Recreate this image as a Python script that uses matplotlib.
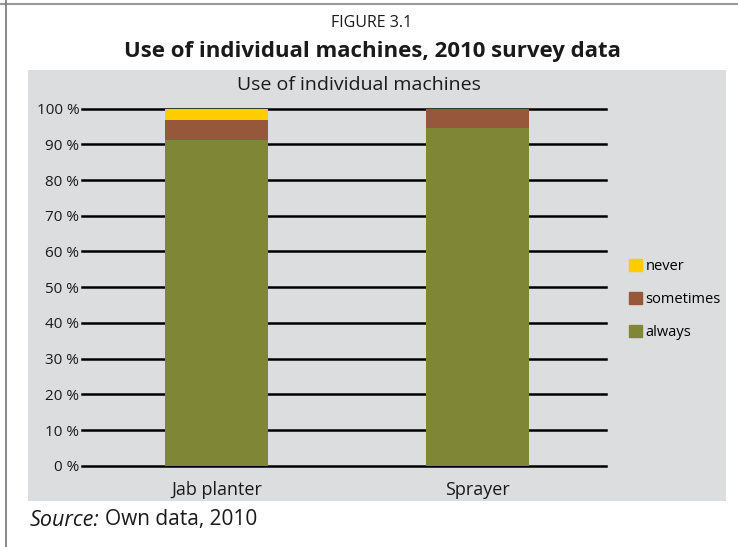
import matplotlib.pyplot as plt
from matplotlib.patches import Rectangle, Patch

plt.rcParams['font.family'] = ['Open Sans', 'DejaVu Sans']

# Share of respondents by machine (percent)
machines = ["Jab planter", "Sprayer"]
always = [91.2, 94.7]
sometimes = [5.6, 5.3]
never = [3.2, 0.0]
y_ticks = [0, 10, 20, 30, 40, 50, 60, 70, 80, 90, 100]

col_always = "#7f8737"
col_sometimes = "#96573a"
col_never = "#ffcc00"
panel_bg = "#dcdddf"
txt = "#1a1a1a"

fig = plt.figure(figsize=(7.38, 5.47), dpi=100)
W, H = 738, 547

# page frame lines (top and left)
fig.add_artist(plt.Line2D([0, 1], [1 - 3.5 / H, 1 - 3.5 / H], color="#999999", lw=1.5))
fig.add_artist(plt.Line2D([6.5 / W, 6.5 / W], [0, 1], color="#777777", lw=1.2))

# grey chart panel
fig.add_artist(Rectangle((28 / W, 1 - 500.5 / H), (726 - 28) / W, (500.5 - 70) / H,
                         transform=fig.transFigure, facecolor=panel_bg, edgecolor="none", zorder=0))

fig.text(372 / W, 1 - 23 / H, "FIGURE 3.1", ha="center", va="center", fontsize=11.5, color=txt)
fig.text(372 / W, 1 - 51 / H, "Use of individual machines, 2010 survey data", ha="center", va="center",
         fontsize=16, fontweight="bold", color=txt)
fig.text(359 / W, 1 - 85 / H, "Use of individual machines", ha="center", va="center",
         fontsize=14, color=txt)

ax = fig.add_axes([82 / W, 1 - 465.7 / H, (606 - 82) / W, (465.7 - 108.7) / H])
ax.patch.set_visible(False)

x = [0, 1]
bw = 0.395
ax.bar(x, always, width=bw, color=col_always, zorder=3, label="always")
ax.bar(x, sometimes, width=bw, bottom=always, color=col_sometimes, zorder=3, label="sometimes")
bottom2 = [a + s for a, s in zip(always, sometimes)]
ax.bar(x, never, width=bw, bottom=bottom2, color=col_never, zorder=3, label="never")

for t in y_ticks:
    ax.axhline(t, color="black", lw=1.8, zorder=2, clip_on=False)

ax.set_xlim(-0.515, 1.492)
ax.set_ylim(0, 100)
for s in ax.spines.values():
    s.set_visible(False)
ax.set_yticks(y_ticks)
ax.set_yticklabels([f"{t} %" for t in y_ticks], fontsize=11, color=txt)
ax.set_xticks(x)
ax.set_xticklabels(machines, fontsize=13, color=txt)
ax.tick_params(axis="y", length=0, pad=2)
ax.tick_params(axis="x", length=0, pad=11)

handles = [Patch(color=col_never, label="never"),
           Patch(color=col_sometimes, label="sometimes"),
           Patch(color=col_always, label="always")]
fig.legend(handles=handles, loc="center left", bbox_to_anchor=(622 / W, 1 - 299.5 / H),
           frameon=False, fontsize=10.5, handlelength=0.85, handleheight=0.85,
           handletextpad=0.25, labelspacing=1.25, borderpad=0)

fig.text(30 / W, 1 - 520 / H, "Source:", ha="left", va="center", fontsize=15.5, style="italic", color=txt)
fig.text(105 / W, 1 - 520 / H, "Own data, 2010", ha="left", va="center", fontsize=15, color=txt)

fig.savefig("out.png", dpi=100)
